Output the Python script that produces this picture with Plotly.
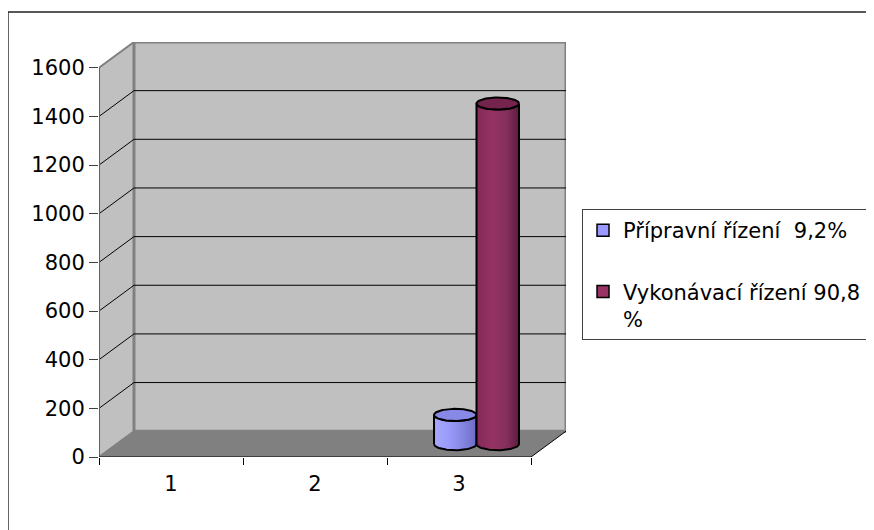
import numpy as np
import plotly.graph_objects as go

# ---------------- data ----------------
categories = ["1", "2", "3"]
series_names = ["Přípravní řízení  9,2%", "Vykonávací řízení 90,8<br>%"]
pripravni_rizeni = [None, None, 120]
vykonavaci_rizeni = [None, None, 1400]
y_tick_values = [0, 200, 400, 600, 800, 1000, 1200, 1400, 1600]

series_values = [pripravni_rizeni, vykonavaci_rizeni]
series_colors = ["#9999FF", "#993366"]
body_scales = [
    [[0, "#A8A8FF"], [0.35, "#9A9AFA"], [0.7, "#8484E0"], [1, "#6C6CC4"]],
    [[0, "#862A58"], [0.4, "#943364"], [0.7, "#86305C"], [1, "#5E1B3F"]],
]
top_colors = ["#8888E6", "#74234C"]

# ---------------- geometry / style ----------------
FONT = "DejaVu Sans"
Y_MAX = 1600
DX = 0.243     # depth offset, category units
DY = 106       # depth offset, value units
BAR_W = 0.295  # cylinder width, category units
RY = 25        # ellipse half-height, value units
WALL = "#C0C0C0"
FLOOR = "#808080"
EDGE = "#808080"

x_left, x_right = 0.5, len(categories) + 0.5

fig = go.Figure()

shapes = []
# side wall
shapes.append(dict(type="path", xref="x", yref="y", layer="below",
                   path=f"M{x_left},0 L{x_left},{Y_MAX} L{x_left+DX},{Y_MAX+DY} L{x_left+DX},{DY} Z",
                   fillcolor=WALL, line=dict(color=EDGE, width=2)))
# back wall
shapes.append(dict(type="rect", xref="x", yref="y", layer="below",
                   x0=x_left + DX, x1=x_right + DX, y0=DY, y1=Y_MAX + DY,
                   fillcolor=WALL, line=dict(color=EDGE, width=3)))
# floor
shapes.append(dict(type="path", xref="x", yref="y", layer="below",
                   path=f"M{x_left},0 L{x_right},0 L{x_right+DX},{DY} L{x_left+DX},{DY} Z",
                   fillcolor=FLOOR, line=dict(width=0)))
# gridlines on back and side wall
for v in y_tick_values[1:-1]:
    shapes.append(dict(type="line", xref="x", yref="y", layer="below",
                       x0=x_left + DX, x1=x_right + DX, y0=v + DY, y1=v + DY,
                       line=dict(color="black", width=1)))
    shapes.append(dict(type="line", xref="x", yref="y", layer="below",
                       x0=x_left, x1=x_left + DX, y0=v, y1=v + DY,
                       line=dict(color="black", width=1)))
# floor right edge
shapes.append(dict(type="line", xref="x", yref="y", layer="below",
                   x0=x_right, x1=x_right + DX, y0=0, y1=DY,
                   line=dict(color="black", width=1)))
# front vertical axis edge
shapes.append(dict(type="line", xref="x", yref="y", layer="below",
                   x0=x_left, x1=x_left, y0=0, y1=Y_MAX,
                   line=dict(color="#606060", width=2)))
# front horizontal axis line
shapes.append(dict(type="line", xref="x", yref="y", layer="below",
                   x0=x_left, x1=x_right, y0=0, y1=0,
                   line=dict(color="black", width=1)))
# outer chart border
shapes.append(dict(type="rect", xref="paper", yref="paper", layer="below",
                   x0=-0.195, x1=1.8, y0=-0.3, y1=1.0723,
                   line=dict(color="#222222", width=1.5), fillcolor="rgba(0,0,0,0)"))

# ---------------- cylinders ----------------
n_series = len(series_values)
t = np.linspace(0, np.pi, 60)
t_full = np.linspace(0, 2 * np.pi, 120)
base = DY / 2
for s in range(n_series):
    for i, v in enumerate(series_values[s]):
        if v is None:
            continue
        cat_x = i + 1
        cx = cat_x + DX / 2 + (s - (n_series - 1) / 2) * BAR_W
        rx = BAR_W / 2
        top = base + v
        xs = list(cx - rx * np.cos(t)) + list(cx + rx * np.cos(t))
        ys = list(base - RY * np.sin(t)) + list(top - RY * np.sin(t))
        xs.append(xs[0]); ys.append(ys[0])
        fig.add_trace(go.Scatter(
            x=xs, y=ys, mode="lines", fill="toself",
            fillgradient=dict(type="horizontal", colorscale=body_scales[s]),
            line=dict(color="black", width=2), showlegend=False, hoverinfo="skip"))
        fig.add_trace(go.Scatter(
            x=cx + rx * np.cos(t_full), y=top + RY * np.sin(t_full),
            mode="lines", fill="toself", fillcolor=top_colors[s],
            line=dict(color="black", width=2), showlegend=False, hoverinfo="skip"))

# legend entries
for s in range(n_series):
    fig.add_trace(go.Bar(x=[None], y=[None], name=series_names[s],
                         marker=dict(color=series_colors[s], line=dict(color="black", width=1.5)),
                         legendgroup=f"g{s}", showlegend=True))

fig.update_layout(
    width=874, height=530,
    margin=dict(l=91, r=316, t=34, b=81, autoexpand=False),
    paper_bgcolor="white", plot_bgcolor="white",
    font=dict(family=FONT, size=21, color="black"),
    showlegend=True,
    shapes=shapes,
    legend=dict(x=1.0343, y=0.5976, xanchor="left", yanchor="top",
                bordercolor="#404040", borderwidth=1, bgcolor="white",
                font=dict(family=FONT, size=21, color="black"),
                tracegroupgap=31, traceorder="grouped", valign="top"),
    xaxis=dict(range=[x_left, x_right + DX], tickmode="array",
               tickvals=[i + 1 for i in range(len(categories))], ticktext=categories,
               ticks="", showgrid=False, zeroline=False, showline=False,
               ticklabelstandoff=12,
               minor=dict(tickmode="array", tickvals=[x_left + k for k in range(len(categories) + 1)],
                          ticks="outside", ticklen=7, tickcolor="black", tickwidth=1, showgrid=False)),
    yaxis=dict(range=[0, Y_MAX + DY], tickmode="array", tickvals=y_tick_values,
               ticks="outside", ticklen=9, tickcolor="#404040", tickwidth=1,
               showgrid=False, zeroline=False, showline=False),
)

fig.write_html("out.html")
